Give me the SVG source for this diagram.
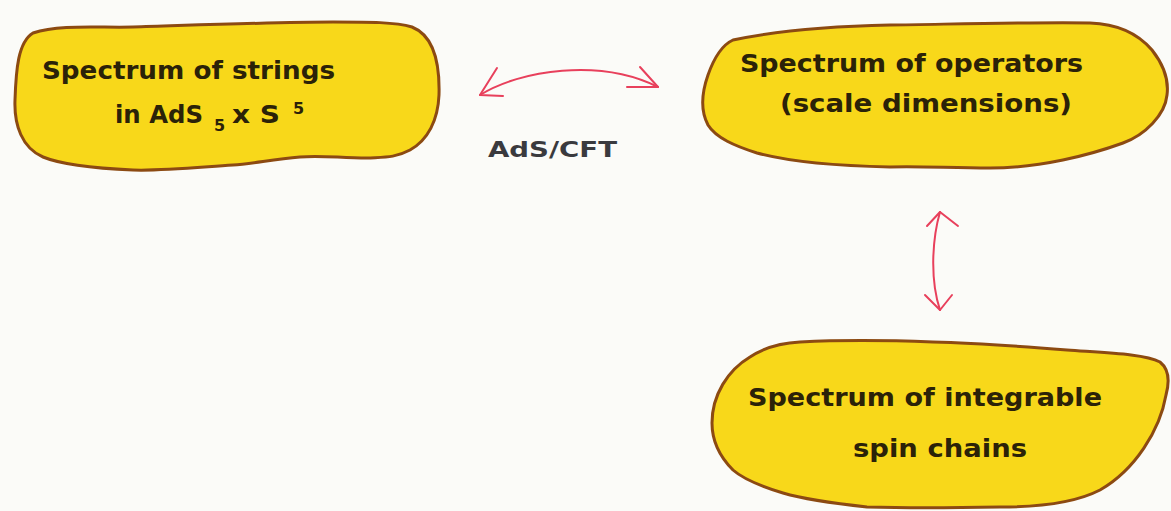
<svg xmlns="http://www.w3.org/2000/svg" width="1171" height="511" viewBox="0 0 1171 511">
<style>
.blob{fill:#f8d81a;stroke:#8c4a12;stroke-width:3;stroke-linejoin:round}
.t{font-family:"DejaVu Sans",sans-serif;font-weight:bold;font-size:25px;fill:#2b2208}
.s{font-family:"DejaVu Sans",sans-serif;font-weight:bold;font-size:16px;fill:#2b2208}
.lbl{font-family:"DejaVu Sans",sans-serif;font-weight:bold;font-size:21px;fill:#3a3a3e}
.arr{fill:none;stroke:#e8405c;stroke-width:2;stroke-linecap:round;stroke-linejoin:round}
</style>
<rect width="1171" height="511" fill="#fbfbf8"/>
<g id="node-strings">
<path class="blob" d="M33,33 C60,24 100,28 133,27 C200,25 280,22 333,22 C370,22 395,22 412,27 C432,35 440,60 439,95 C438,120 428,140 410,150 C395,158 385,157 367,158 C340,158 320,155 300,157 C270,160 250,164 233,165 C190,168 160,171 133,170 C90,168 60,164 43,157 C22,148 14,125 15,100 C16,70 18,42 33,33 Z"/>
<text class="t" x="42" y="79" textLength="293" lengthAdjust="spacingAndGlyphs">Spectrum of strings</text>
<text class="t" x="115" y="123" textLength="88" lengthAdjust="spacingAndGlyphs">in AdS</text>
<text class="s" x="214" y="131">5</text>
<text class="t" x="232" y="123" textLength="48" lengthAdjust="spacingAndGlyphs">x S</text>
<text class="s" x="293" y="114">5</text>
</g>
<g id="node-operators">
<path class="blob" d="M733,40 C780,30 840,26 890,25 C960,24 1040,22 1090,23 C1120,24 1140,36 1152,50 C1163,64 1169,80 1167,95 C1165,115 1145,135 1123,143 C1090,155 1040,168 990,168 C950,168 920,166 890,167 C840,166 790,162 757,153 C735,146 716,138 708,125 C700,110 702,92 708,75 C714,58 722,45 733,40 Z"/>
<text class="t" x="740" y="72" textLength="343" lengthAdjust="spacingAndGlyphs">Spectrum of operators</text>
<text class="t" x="780" y="112" textLength="292" lengthAdjust="spacingAndGlyphs">(scale dimensions)</text>
</g>
<g id="node-spinchains">
<path class="blob" d="M750,357 C765,347 780,343 800,342 C840,340 880,340 933,342 C980,343 1030,347 1067,350 C1110,353 1145,354 1160,362 C1170,370 1169,384 1166,395 C1160,430 1135,470 1100,490 C1075,503 1040,507 1000,507 C950,508 900,508 867,507 C830,503 800,498 783,493 C760,486 742,478 733,470 C718,455 712,440 712,423 C712,395 728,370 750,357 Z"/>
<text class="t" x="748" y="406" textLength="354" lengthAdjust="spacingAndGlyphs">Spectrum of integrable</text>
<text class="t" x="853" y="457" textLength="174" lengthAdjust="spacingAndGlyphs">spin chains</text>
</g>
<g id="connectors">
<path class="arr" d="M480,95 C520,70 600,58 658,87"/>
<path class="arr" d="M497,68 L480,95 L503,96"/>
<path class="arr" d="M640,67 L658,87 L627,87"/>
<path class="arr" d="M940,212 C932,240 930,280 940,310"/>
<path class="arr" d="M927,226 L940,212 L958,226"/>
<path class="arr" d="M925,295 L940,310 L952,295"/>
</g>
<text class="lbl" x="488" y="157" textLength="129" lengthAdjust="spacingAndGlyphs">AdS/CFT</text>
</svg>
